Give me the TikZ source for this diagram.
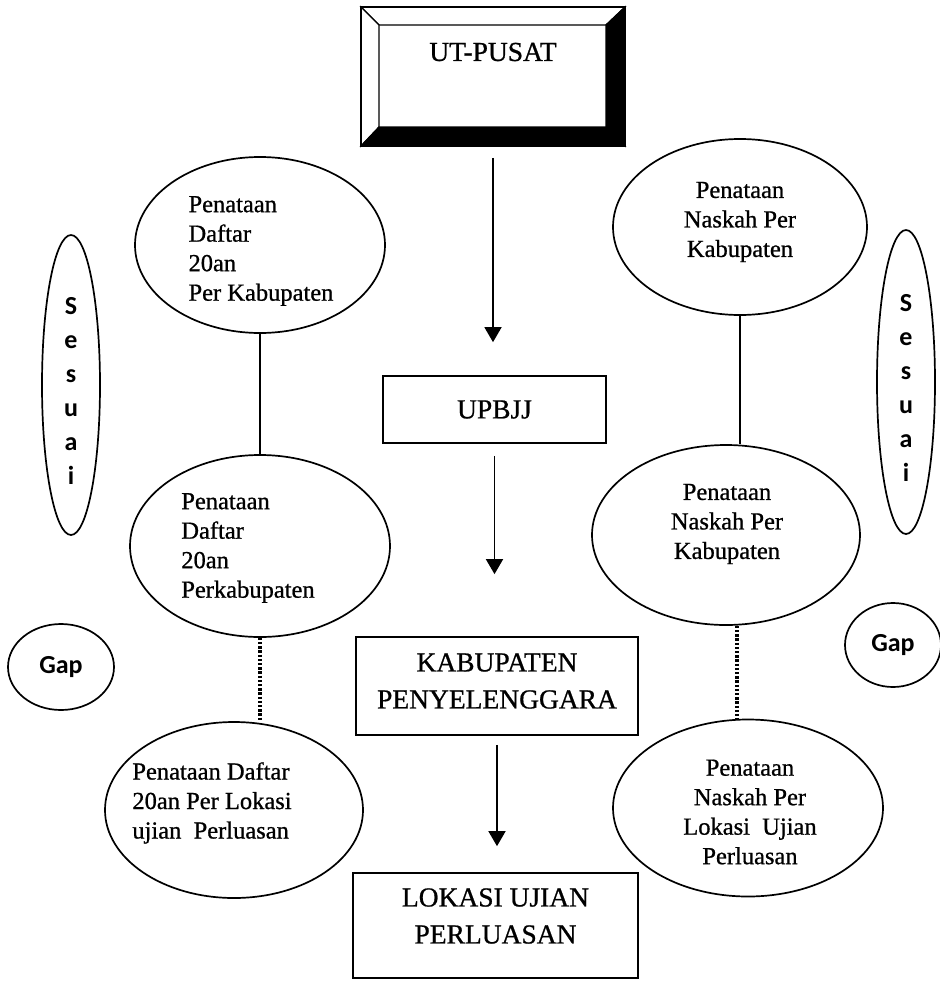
\documentclass[tikz,border=0pt]{standalone}
\usepackage{fontspec}
\setmainfont{Liberation Serif}[FakeBold=0.8]
\newfontfamily\gapfont{Carlito}
\usetikzlibrary{shapes.geometric,arrows.meta}
\begin{document}
\begin{tikzpicture}[x=1pt,y=-1pt,
  oval/.style={draw, ellipse, line width=1.7pt, inner sep=0pt},
  etext/.style={font=\fontsize{24.5}{29.5}\selectfont, inner sep=0pt},
  boxn/.style={draw, rectangle, line width=1.7pt, inner sep=0pt},
  btext/.style={font=\fontsize{27.5}{37}\selectfont, align=center, inner sep=0pt},
  arr/.style={line width=1.6pt, -{Triangle[width=17pt,length=15pt]}},
  solidline/.style={line width=1.6pt},
  dots/.style={line width=3.2pt, dash pattern=on 2.4pt off 1.8pt},
  side/.style={font=\gapfont\bfseries\fontsize{26}{34}\selectfont, align=center, inner sep=0pt}
]
\fill[white] (0,0) rectangle (940,983);
\useasboundingbox (0,0) rectangle (940,983);

% UT-PUSAT bevelled box
\filldraw[fill=white, line width=1.2pt] (361,7) -- (625,7) -- (606,25) -- (379,25) -- cycle;
\filldraw[fill=white, line width=1.2pt] (361,7) -- (379,25) -- (379,127) -- (361,146) -- cycle;
\filldraw[fill=black, line width=1.2pt] (625,7) -- (625,146) -- (606,127) -- (606,25) -- cycle;
\filldraw[fill=black, line width=1.2pt] (361,146) -- (625,146) -- (606,127) -- (379,127) -- cycle;
\node[boxn, minimum width=264pt, minimum height=139pt] (utp) at (493,76.5) {};
\node[btext] (utpt) at (493,52) {UT-PUSAT};

% central boxes
\node[boxn, btext, minimum width=223pt, minimum height=67pt] (upbjj) at (494.5,409.5) {UPBJJ};
\node[boxn, minimum width=282pt, minimum height=98pt] (kab) at (497,686) {};
\node[btext] (kabt) at (497,681) {KABUPATEN\\PENYELENGGARA};
\node[boxn, minimum width=285pt, minimum height=105pt] (lok) at (495.5,925.5) {};
\node[btext] (lokt) at (495.5,916) {LOKASI UJIAN\\PERLUASAN};

% ellipses
\node[oval, minimum width=250pt, minimum height=176pt] (e1) at (260,245) {};
\node[oval, minimum width=260pt, minimum height=182pt] (e2) at (260,546) {};
\node[oval, minimum width=258pt, minimum height=176pt] (e3) at (234,810) {};
\node[oval, minimum width=254pt, minimum height=176pt] (e4) at (740,227) {};
\node[oval, minimum width=268pt, minimum height=180pt] (e5) at (726,535) {};
\node[oval, minimum width=270pt, minimum height=177pt] (e6) at (748,808) {};

\node[etext, align=left] (t1) at (261,251) {Penataan\\Daftar\\20an\\Per Kabupaten};
\node[etext, align=left] (t2) at (248,548) {Penataan\\Daftar\\20an\\Perkabupaten};
\node[etext, align=left] (t3) at (212,803) {Penataan Daftar\\20an Per Lokasi\\ujian~~Perluasan};
\node[etext, align=center] (t4) at (740,222) {Penataan\\Naskah Per\\Kabupaten};
\node[etext, align=center] (t5) at (727,524) {Penataan\\Naskah Per\\Kabupaten};
\node[etext, align=center] (t6) at (750,812) {Penataan\\Naskah Per\\Lokasi~~Ujian\\Perluasan};

% side ellipses
\node[oval, minimum width=58pt, minimum height=300pt] (sl) at (71,385) {};
\node[side] (slt) at (71,391) {S\\e\\s\\u\\a\\i};
\node[oval, minimum width=58pt, minimum height=304pt] (sr) at (906,382) {};
\node[side] (srt) at (906,388) {S\\e\\s\\u\\a\\i};
\node[oval, side, minimum width=106pt, minimum height=86pt] (gl) at (61,667) {Gap};
\node[oval, side, minimum width=96pt, minimum height=84pt] (gr) at (893,645) {Gap};

% connectors
\draw[solidline] (e1.south) -- (e1.south |- e2.north);
\draw[solidline] (e4.south) -- (e4.south |- e5.north);
\draw[dots] (e2.south) -- (e2.south |- e3.north);
\draw[dots] ([xshift=11pt]e5.south) -- ([xshift=11pt]e5.south |- e6.north);

% arrows
\draw[arr] ([yshift=-11pt]utp.south) -- ([yshift=33pt]utp.south |- upbjj.north);
\draw[arr] ([yshift=-12pt]upbjj.south) -- ([yshift=62pt]upbjj.south |- kab.north);
\draw[arr] ([yshift=-9pt]kab.south) -- ([yshift=26pt]kab.south |- lok.north);
\end{tikzpicture}
\end{document}
